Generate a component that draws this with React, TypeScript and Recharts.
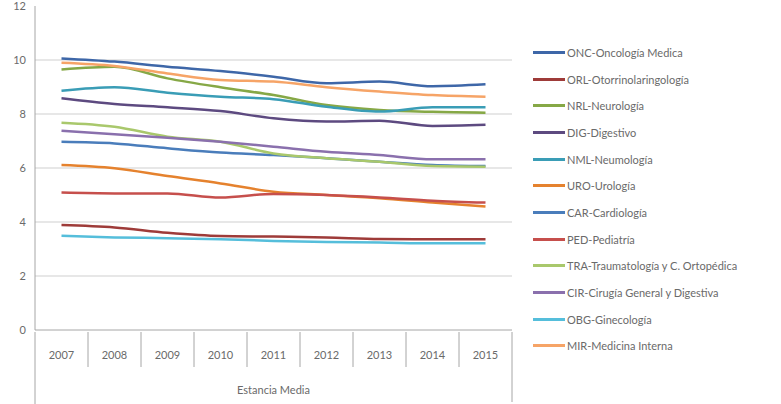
import React from "react";
import { LineChart, Line, XAxis, YAxis, CartesianGrid } from "recharts";

const years = ["2007", "2008", "2009", "2010", "2011", "2012", "2013", "2014", "2015"];

const onc = [10.06, 9.94, 9.75, 9.59, 9.38, 9.14, 9.2, 9.03, 9.1];
const orl = [3.89, 3.8, 3.6, 3.48, 3.46, 3.43, 3.37, 3.36, 3.36];
const nrl = [9.65, 9.75, 9.32, 8.99, 8.7, 8.33, 8.15, 8.08, 8.05];
const dig = [8.58, 8.37, 8.25, 8.11, 7.84, 7.72, 7.75, 7.56, 7.6];
const nml = [8.86, 8.99, 8.79, 8.64, 8.55, 8.27, 8.09, 8.25, 8.25];
const uro = [6.11, 5.99, 5.7, 5.43, 5.12, 5.0, 4.88, 4.72, 4.57];
const car = [6.97, 6.91, 6.73, 6.57, 6.48, 6.36, 6.23, 6.11, 6.07];
const ped = [5.09, 5.06, 5.06, 4.91, 5.04, 5.0, 4.91, 4.79, 4.72];
const tra = [7.68, 7.53, 7.16, 6.97, 6.54, 6.36, 6.23, 6.07, 6.05];
const cir = [7.38, 7.25, 7.12, 6.97, 6.79, 6.6, 6.48, 6.32, 6.32];
const obg = [3.49, 3.43, 3.4, 3.36, 3.3, 3.26, 3.24, 3.21, 3.21];
const mir = [9.9, 9.78, 9.5, 9.26, 9.2, 8.99, 8.83, 8.7, 8.64];

const yTicks = [0, 2, 4, 6, 8, 10, 12];

const series = [
  { key: "onc", name: "ONC-Oncología Medica", values: onc, color: "#3e67a8" },
  { key: "orl", name: "ORL-Otorrinolaringología", values: orl, color: "#9e3b39" },
  { key: "nrl", name: "NRL-Neurología", values: nrl, color: "#86a846" },
  { key: "dig", name: "DIG-Digestivo", values: dig, color: "#5d4a80" },
  { key: "nml", name: "NML-Neumología", values: nml, color: "#3a9db6" },
  { key: "uro", name: "URO-Urología", values: uro, color: "#e5822e" },
  { key: "car", name: "CAR-Cardiología", values: car, color: "#4a7dbb" },
  { key: "ped", name: "PED-Pediatría", values: ped, color: "#c64f4c" },
  { key: "tra", name: "TRA-Traumatología y C. Ortopédica", values: tra, color: "#a9c86c" },
  { key: "cir", name: "CIR-Cirugía General y Digestiva", values: cir, color: "#8a70ad" },
  { key: "obg", name: "OBG-Ginecología", values: obg, color: "#55bedb" },
  { key: "mir", name: "MIR-Medicina Interna", values: mir, color: "#f6a467" },
];

const data = years.map((year, i) => {
  const row: Record<string, string | number> = { year };
  series.forEach((s) => {
    row[s.key] = s.values[i];
  });
  return row;
});

const W = 781;
const H = 404;
const PLOT_LEFT = 35;
const PLOT_RIGHT = 512;
const BAND = (PLOT_RIGHT - PLOT_LEFT) / years.length;
const FONT = "Lato, 'Open Sans', sans-serif";
const TEXT = "#6a6a6a";
const AXIS = "#a6a6a6";

function YearTick(props: any) {
  const { x, y, payload, index } = props;
  const last = index === years.length - 1;
  return (
    <g>
      {index === 0 ? (
        <line x1={x - BAND / 2} y1={y} x2={x - BAND / 2} y2={H} stroke={AXIS} />
      ) : (
        <line x1={x - BAND / 2} y1={y} x2={x - BAND / 2} y2={y + 35} stroke={AXIS} />
      )}
      {last && <line x1={x + BAND / 2} y1={y} x2={x + BAND / 2} y2={y + 70} stroke={AXIS} />}
      <text x={x} y={y + 27} textAnchor="middle" fontSize={11} fill={TEXT} fontFamily={FONT}>
        {payload.value}
      </text>
    </g>
  );
}

export default function App() {
  return (
    <div style={{ position: "absolute", left: 0, top: 0, width: W, height: H, background: "#fff" }}>
      <LineChart
        width={W}
        height={H}
        data={data}
        margin={{ top: 6, right: W - PLOT_RIGHT, bottom: 0, left: 5 }}
      >
        <CartesianGrid vertical={false} horizontalValues={[2, 4, 6, 8, 10]} stroke="#cfcfcf" />
        <XAxis
          dataKey="year"
          scale="band"
          height={74}
          tickLine={false}
          tickSize={0}
          axisLine={{ stroke: AXIS }}
          tick={<YearTick />}
          interval={0}
          label={{
            value: "Estancia Media",
            position: "insideBottom",
            offset: 10,
            fontSize: 11,
            fill: TEXT,
            fontFamily: FONT,
          }}
        />
        <YAxis
          width={30}
          domain={[0, 12]}
          ticks={yTicks}
          tickLine={false}
          tickSize={0}
          tickMargin={9}
          axisLine={{ stroke: AXIS }}
          tick={{ fontSize: 11, fill: TEXT, fontFamily: FONT }}
        />
        {series.map((s) => (
          <Line
            key={s.key}
            dataKey={s.key}
            name={s.name}
            type="monotone"
            stroke={s.color}
            strokeWidth={2.5}
            dot={false}
            isAnimationActive={false}
          />
        ))}
      </LineChart>
      <div style={{ position: "absolute", left: 533, top: 39, fontFamily: FONT, fontSize: 11, color: TEXT }}>
        {series.map((s) => (
          <div key={s.key} style={{ display: "flex", alignItems: "center", height: 26.7 }}>
            <span style={{ display: "inline-block", width: 32, height: 3, background: s.color, marginRight: 2 }} />
            <span style={{ whiteSpace: "nowrap" }}>{s.name}</span>
          </div>
        ))}
      </div>
    </div>
  );
}
